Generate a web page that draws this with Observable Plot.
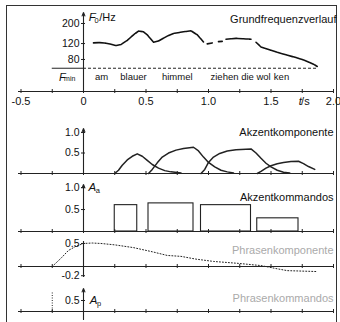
<!DOCTYPE html>
<html><head><meta charset="utf-8">
<script src="https://cdn.jsdelivr.net/npm/d3@7"></script>
<script src="https://cdn.jsdelivr.net/npm/@observablehq/plot@0.6"></script>
<style>
body{margin:0;background:#fff;}
#wrap{position:relative;width:340px;height:322px;overflow:hidden;background:#fff;color:#111;}
#frame{position:absolute;left:6px;top:5px;width:331px;height:340px;border:1px solid #333;box-sizing:border-box;}
.panel{position:absolute;left:0;}
</style></head><body><div id="wrap"><div id="frame"></div></div>
<script>
// ---------- data ----------
const timeTicks = [-0.5,-0.25,0,0.25,0.5,0.75,1,1.25,1.5,1.75,2];
const timeLabelPos = [-0.5,0,0.5,1.0,1.5,2.0];
const timeLabels = ["-0.5","0","0.5","1.0","1.5","2.0"];

const f0Ticks = [200,120,80];
const f0Time = [0.08,0.13,0.18,0.22,0.26,0.30,0.35,0.40,0.44,0.48,0.51,0.56,0.60,0.67,0.72,0.80,0.86,0.91,0.96,null,0.99,1.03,null,1.08,1.11,null,1.14,1.22,1.30,1.34,null,1.38,1.42,1.50,1.55,1.62,1.70,1.75,1.79,1.84,1.87];
const f0Hz   = [122,123,121,118,114,117,130,150,165,162,150,124,128,145,155,162,166,150,125,null,119,122,null,126,127,null,134,137,135,134,null,124,110,101,96,90,84,80,76,71,67];
const fMin = 64;
const words = ["am","blauer","himmel","ziehen","die","wol","ken"];
const wordTime = [0.145,0.40,0.75,1.128,1.312,1.44,1.584];

const accTicks = [0.5,1.0];
const acc1T = [0.25,0.28,0.31,0.35,0.39,0.43,0.47,0.51,0.55,0.60,0.65,0.70,0.78];
const acc1V = [0,0.08,0.20,0.33,0.42,0.48,0.42,0.32,0.22,0.13,0.07,0.04,0.01];
const acc2T = [0.52,0.55,0.59,0.63,0.68,0.74,0.80,0.88,0.92,0.96,1.00,1.05,1.10,1.15,1.20];
const acc2V = [0,0.10,0.26,0.40,0.50,0.57,0.61,0.64,0.55,0.40,0.27,0.16,0.08,0.04,0.01];
const acc3T = [0.94,0.97,1.00,1.04,1.09,1.15,1.22,1.34,1.38,1.42,1.46,1.50,1.55,1.60,1.65];
const acc3V = [0,0.10,0.27,0.40,0.49,0.55,0.58,0.60,0.50,0.37,0.25,0.16,0.08,0.03,0.01];
const acc4T = [1.39,1.42,1.46,1.50,1.55,1.60,1.66,1.72,1.76,1.80,1.85];
const acc4V = [0,0.05,0.13,0.19,0.24,0.27,0.29,0.30,0.24,0.17,0.10];

const cmdOn  = [0.25,0.52,0.94,1.39];
const cmdOff = [0.43,0.88,1.34,1.72];
const cmdAmp = [0.60,0.64,0.60,0.30];

const phrTicks = [0.5,-0.2];
const phrT = [-0.25,-0.18,-0.12,-0.06,0,0.07,0.14,0.25,0.40,0.55,0.67,0.78,0.90,1.04,1.23,1.42,1.55,1.63,1.75,1.87];
const phrV = [0,0.18,0.35,0.44,0.50,0.51,0.50,0.47,0.41,0.32,0.24,0.22,0.16,0.11,0.07,0.02,-0.05,-0.09,-0.10,-0.11];

const pcmdTicks = [0.5];
const pcmdTime = [-0.25];
const pcmdAmp = [0.86];

// ---------- helpers ----------
const W = 340, ML = 18, MR = 7;
const xDomain = [-0.52, 2.0];
const INK = "#111";
const tickFont = '"Liberation Sans Narrow","Arial Narrow","Liberation Sans",sans-serif';
const mainFont = '"Liberation Sans",Arial,sans-serif';
const zip = (a,b,k1,k2) => a.map((v,i)=>({[k1]: v, [k2]: b[i]}));

function axisMarks(base, yTicks, yFmt, yLo, yHi, arrow) {
  const m = [
    Plot.ruleY([base], {stroke:"#222", strokeWidth:1.1}),
    Plot.ruleX(timeTicks, {x:d=>d, y1:base, y2:base, insetTop:-2, insetBottom:-2, stroke:"#222"}),
    Plot.ruleY(yTicks, {y:d=>d, x1:0, x2:0, insetLeft:-2, insetRight:-2, stroke:"#222"}),
    Plot.text(yTicks, {x:0, y:d=>d, text:yFmt, textAnchor:"end", dx:-4, fontSize:10.5, fontFamily:tickFont, fill:INK})
  ];
  if (arrow) m.push(Plot.arrow([0], {x1:0, x2:0, y1:yLo, y2:yHi, headLength:5, headAngle:45, stroke:"#222", strokeWidth:1.1}));
  else m.push(Plot.ruleX([0], {y1:yLo, y2:yHi, stroke:"#222", strokeWidth:1.1}));
  return m;
}

function label(txt, opts) {
  return Plot.text([txt], {text:d=>d, fill:INK, fontFamily:mainFont, ...opts});
}

function panel(top, height, mt, mb, yOpts, marks) {
  const svg = Plot.plot({
    width: W, height, marginLeft: ML, marginRight: MR, marginTop: mt, marginBottom: mb,
    x: {domain: xDomain, axis: null},
    y: {...yOpts, axis: null},
    style: {background:"transparent", overflow:"visible", fontFamily: mainFont, color: INK},
    marks
  });
  svg.classList.add("panel");
  svg.style.top = top + "px";
  document.getElementById("wrap").appendChild(svg);
}

// ---------- panel 1: F0 ----------
const fLo = 35.4, fHi = 264.6;
const f0Data = zip(f0Time, f0Hz, "t", "f");
panel(0, 110, 12, 19, {type:"log", domain:[fLo, fHi]}, [
  ...axisMarks(fLo, f0Ticks, d=>String(d), fLo, fHi, true),
  Plot.ruleY([fMin], {x1:-0.25, x2:0, stroke:"#222"}),
  Plot.ruleY([fMin], {x1:0, x2:1.88, stroke:"#222", strokeDasharray:"3,2"}),
  Plot.line(f0Data, {x:"t", y:"f", stroke:INK, strokeWidth:1.6, strokeDasharray:"5,0.8", defined: d=>d.t!==null}),
  Plot.text(timeLabelPos, {x:d=>d, y:fLo, text:(d,i)=>timeLabels[i], dy:10, fontSize:11, fontFamily:tickFont, fill:INK}),
  label("t", {x:1.735, y:fLo, dy:10, fontStyle:"italic", fontSize:11}),
  label("/s", {x:1.775, y:fLo, dy:10, fontSize:11, fontFamily:tickFont}),
  Plot.text(words, {x:(d,i)=>wordTime[i], y:fMin, dy:9, text:d=>d, fontSize:9.5, fontFamily:mainFont, fill:INK}),
  label("F", {x:-0.17, y:fMin, dy:9, fontStyle:"italic", fontSize:11}),
  label("min", {x:-0.11, y:fMin, dy:11, fontSize:7}),
  label("F", {x:0.07, y:fHi, dy:5, fontStyle:"italic", fontSize:11.5}),
  label("0", {x:0.105, y:fHi, dy:8, fontSize:7.5}),
  label("/Hz", {x:0.125, y:fHi, dy:5, textAnchor:"start", fontSize:11, fontFamily:tickFont}),
  label("Grundfrequenzverlauf", {x:2.0, y:221, textAnchor:"end", dx:3, fontSize:11})
]);

// ---------- panel 2: accent components ----------
const a2Lo = 0, a2Hi = 1.098;
panel(120, 60, 8, 7, {domain:[a2Lo, a2Hi]}, [
  ...axisMarks(0, accTicks, d=>d.toFixed(1), a2Lo, a2Hi, true),
  Plot.line(zip(acc1T, acc1V, "t", "v"), {x:"t", y:"v", stroke:"#222"}),
  Plot.line(zip(acc2T, acc2V, "t", "v"), {x:"t", y:"v", stroke:"#222"}),
  Plot.line(zip(acc3T, acc3V, "t", "v"), {x:"t", y:"v", stroke:"#222"}),
  Plot.line(zip(acc4T, acc4V, "t", "v"), {x:"t", y:"v", stroke:"#222"}),
  label("Akzentkomponente", {x:2.0, y:1.0, textAnchor:"end", fontSize:11})
]);

// ---------- panel 3: accent commands ----------
const a3Lo = 0, a3Hi = 1.07;
panel(180, 56, 4, 5, {domain:[a3Lo, a3Hi]}, [
  Plot.rect(cmdOn, {x1:d=>d, x2:(d,i)=>cmdOff[i], y1:0, y2:(d,i)=>cmdAmp[i], fill:"none", stroke:"#222", strokeWidth:1.1}),
  ...axisMarks(0, accTicks, d=>d.toFixed(1), a3Lo, a3Hi, true),
  label("A", {x:0.07, y:1.0, fontStyle:"italic", fontSize:11.5}),
  label("a", {x:0.115, y:1.0, dy:3, fontSize:7.5}),
  label("Akzentkommandos", {x:2.0, y:0.77, textAnchor:"end", fontSize:11})
]);

// ---------- panel 4: phrase component ----------
const p4Lo = -0.239, p4Hi = 0.543;
panel(236, 46, 5, 5, {domain:[p4Lo, p4Hi]}, [
  ...axisMarks(0, phrTicks, d=>d.toFixed(1), p4Lo, p4Hi, false),
  Plot.line(zip(phrT, phrV, "t", "v"), {x:"t", y:"v", stroke:"#222", strokeWidth:1, strokeDasharray:"1,2"}),
  label("Phrasenkomponente", {x:2.0, y:0.35, textAnchor:"end", fontSize:11, fill:"#aaa"})
]);

// ---------- panel 5: phrase commands ----------
const p5Lo = -0.364, p5Hi = 1.045;
panel(284, 40, 4, 5, {domain:[p5Lo, p5Hi]}, [
  ...axisMarks(0, pcmdTicks, d=>d.toFixed(1), p5Lo, p5Hi, true),
  Plot.ruleX(pcmdTime, {x:d=>d, y1:0, y2:(d,i)=>pcmdAmp[i], stroke:"#222", strokeDasharray:"1,1.5"}),
  label("A", {x:0.08, y:0.5, fontStyle:"italic", fontSize:11.5}),
  label("p", {x:0.125, y:0.5, dy:3, fontSize:7.5}),
  label("Phrasenkommandos", {x:2.0, y:0.59, textAnchor:"end", fontSize:11, fill:"#aaa"})
]);
</script></body></html>
